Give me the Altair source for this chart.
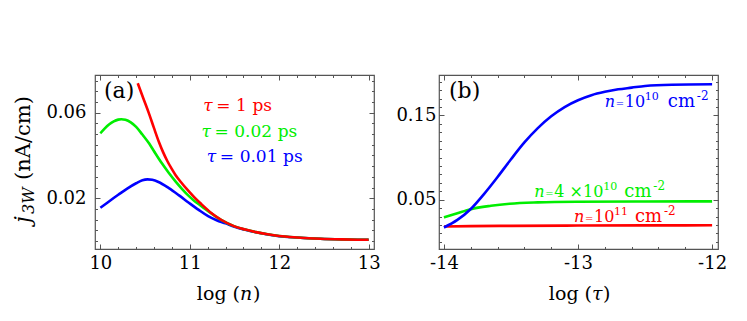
import altair as alt
import pandas as pd

FONT = "DejaVu Serif"

# ---------------- panel (a): j3W vs log(n) ----------------
a_red_x = [10.418, 10.48, 10.546, 10.60, 10.656, 10.70, 10.75, 10.80, 10.84, 10.90, 10.985,
           11.06, 11.13, 11.24, 11.35, 11.5, 11.62, 11.74, 11.87, 12.0, 12.2, 12.46, 12.7, 13.0]
a_red_y = [0.0738, 0.0668, 0.0594, 0.0528, 0.0462, 0.0417, 0.0373, 0.0336, 0.0309, 0.0276, 0.0234,
           0.0200, 0.0172, 0.0131, 0.0099, 0.0068, 0.0053, 0.0041, 0.0031, 0.0023, 0.0016, 0.0010, 0.0007, 0.0005]

a_green_x = [10.0, 10.05, 10.1, 10.15, 10.2, 10.234, 10.28, 10.34, 10.40, 10.47, 10.546, 10.6,
             10.69, 10.766, 10.84, 10.912, 10.985, 11.058, 11.13, 11.24, 11.35, 11.5, 11.62, 11.74,
             11.87, 12.0, 12.2, 12.46, 12.7, 13.0]
a_green_y = [0.0504, 0.0527, 0.0546, 0.0560, 0.0568, 0.0570, 0.0567, 0.0555, 0.0534, 0.0498, 0.0456, 0.0420,
             0.0362, 0.0318, 0.0279, 0.0244, 0.0212, 0.0185, 0.0163, 0.0129, 0.0098, 0.0068, 0.0053, 0.0041,
             0.0031, 0.0023, 0.0016, 0.0010, 0.0007, 0.0005]

a_blue_x = [10.0, 10.1, 10.2, 10.3, 10.4, 10.47, 10.527, 10.58, 10.65, 10.766, 10.88, 10.985, 11.1,
            11.205, 11.3, 11.4, 11.5, 11.62, 11.74, 11.87, 12.0, 12.2, 12.46, 12.7, 13.0]
a_blue_y = [0.0155, 0.0186, 0.0216, 0.0245, 0.0270, 0.0284, 0.0288, 0.0286, 0.0276, 0.0247, 0.0213, 0.0180, 0.0145,
            0.0116, 0.0097, 0.0082, 0.0066, 0.0052, 0.0040, 0.0030, 0.0022, 0.0016, 0.0010, 0.0007, 0.0005]

a_x_major = [10, 11, 12, 13]
a_x_minor = [round(10 + 0.2 * i, 2) for i in range(16)]
a_y_major = [0.02, 0.06]
a_y_minor = [round(0.005 * i, 3) for i in range(16)]
a_x_domain = [9.94, 13.06]
a_y_domain = [-0.0038, 0.0777]

a_labels_rest = ["=\u20041\u2004ps", "=\u20040.02\u2004ps", "=\u20040.01\u2004ps"]
a_labels_x = [11.15, 11.13, 11.19]
a_labels_y = [0.0608, 0.0486, 0.0369]
a_labels_color = ["#ff0000", "#00ee00", "#0000ff"]

# ---------------- panel (b): j3W vs log(tau) ----------------
b_blue_x = [-14.0, -13.9, -13.8, -13.7, -13.6, -13.5, -13.4, -13.3, -13.2, -13.1, -13.0,
            -12.9, -12.8, -12.7, -12.6, -12.5, -12.3, -12.0]
b_blue_y = [0.017, 0.026, 0.039, 0.057, 0.077, 0.098, 0.118, 0.135, 0.149, 0.160, 0.168,
            0.174, 0.178, 0.181, 0.183, 0.185, 0.1865, 0.187]
b_green_x = [-14.0, -13.9, -13.8, -13.65, -13.51, -13.3, -13.01, -12.5, -12.0]
b_green_y = [0.029, 0.034, 0.0388, 0.0428, 0.0452, 0.0468, 0.0476, 0.0479, 0.048]
b_red_x = [-14.0, -13.8, -13.5, -13.0, -12.5, -12.0]
b_red_y = [0.0182, 0.0187, 0.0190, 0.0193, 0.0195, 0.0196]

b_x_major = [-14, -13, -12]
b_x_minor = [round(-14 + 0.2 * i, 2) for i in range(11)]
b_y_major = [0.05, 0.15]
b_y_minor = [round(0.01 * i, 2) for i in range(20)]
b_x_domain = [-14.037, -11.956]
b_y_domain = [-0.0085, 0.198]

b_labels_base = ["10", "4 ×10", "10"]
b_labels_exp = ["10", "10", "11"]
b_labels_exp_dx = [40, 69, 40]
b_labels_cm_dx = [63, 90, 61]
b_labels_x = [-12.80, -13.326, -13.03]
b_labels_y = [0.160, 0.0535, 0.0235]
b_labels_color = ["#0000ff", "#00ee00", "#ff0000"]

W, H = 279, 174
TICK = "#555555"


def axis(orient, values, size, labels=False, pad=0):
    kw = dict(orient=orient, values=values, tickSize=size, offset=-size, domain=False,
              grid=False, title=None, labels=labels, ticks=True, tickColor=TICK, tickWidth=1)
    if labels:
        kw.update(labelFont=FONT, labelFontSize=18, labelColor="black", labelPadding=pad,
                  labelFlush=False, labelOverlap=False, labelExpr="'' + datum.value")
    return alt.Axis(**kw)


def df_of(xs, ys):
    return pd.DataFrame({"x": xs, "y": ys})


def panel(series, xdom, ydom, xmaj, xmin, ymaj, ymin, ylabpad, extra):
    xs = alt.Scale(domain=xdom, nice=False, zero=False)
    ys = alt.Scale(domain=ydom, nice=False, zero=False)
    carrier = df_of(series[0][1], series[0][2])
    layers = []
    for xa, ya in [
        (axis("bottom", xmaj, 5, True, 5), axis("left", ymaj, 5, True, ylabpad)),
        (axis("bottom", xmin, 2.5), axis("left", ymin, 2.5)),
        (axis("top", xmaj, 5), axis("right", ymaj, 5)),
        (axis("top", xmin, 2.5), axis("right", ymin, 2.5)),
    ]:
        layers.append(alt.Chart(carrier).mark_line(opacity=0).encode(
            x=alt.X("x:Q", scale=xs, axis=xa), y=alt.Y("y:Q", scale=ys, axis=ya)))
    for color, sx, sy in series:
        layers.append(alt.Chart(df_of(sx, sy)).mark_line(
            color=color, strokeWidth=2.6, interpolate="monotone").encode(
            x=alt.X("x:Q", scale=xs, axis=None), y=alt.Y("y:Q", scale=ys, axis=None)))
    for ch in extra(xs, ys):
        layers.append(ch)
    return alt.layer(*layers).resolve_axis(x="independent", y="independent").properties(width=W, height=H)


one = pd.DataFrame({"k": [0]})


def ptext(text, x, y, size, style="normal", angle=0, color="black", align="left"):
    kw = dict(text=text, font=FONT, fontSize=size, fontStyle=style, color=color,
              align=align, baseline="alphabetic")
    if angle:
        kw["angle"] = angle
    return alt.Chart(one).mark_text(**kw).encode(x=alt.value(x), y=alt.value(y))


def dtext(xs, ys, x, y, text, size, color, dx=0, dy=0, style="normal"):
    d = pd.DataFrame({"x": [x], "y": [y]})
    kw = dict(text=text, font=FONT, fontSize=size, fontStyle=style, color=color,
              align="left", baseline="alphabetic")
    if dx:
        kw["dx"] = dx
    if dy:
        kw["dy"] = dy
    return alt.Chart(d).mark_text(**kw).encode(
        x=alt.X("x:Q", scale=xs, axis=None), y=alt.Y("y:Q", scale=ys, axis=None))


def extra_a(xs, ys):
    out = []
    for r, x, y, c in zip(a_labels_rest, a_labels_x, a_labels_y, a_labels_color):
        out.append(dtext(xs, ys, x, y, "τ", 17, c, style="italic"))
        out.append(dtext(xs, ys, x, y, r, 17, c, dx=13))
    out.append(ptext("(a)", 9, 23, 22))
    # y-axis title  j_3W (nA/cm)
    out.append(ptext("j", -65, 148, 22, "italic", 270))
    out.append(ptext("3W", -61, 139, 16, "italic", 270))
    out.append(ptext("(nA/cm)", -65, 105, 21, "normal", 270))
    # x-axis title  log (n)
    out.append(ptext("log (", 145, 225, 19, align="right"))
    out.append(ptext("n", 145, 225, 19, "italic"))
    out.append(ptext(")", 158, 225, 19))
    return out


def extra_b(xs, ys):
    out = []
    for i in range(3):
        x, y, c = b_labels_x[i], b_labels_y[i], b_labels_color[i]
        out.append(dtext(xs, ys, x, y, "n", 16, c, style="italic"))
        out.append(dtext(xs, ys, x, y, "=", 10, c, dx=11))
        out.append(dtext(xs, ys, x, y, b_labels_base[i], 16, c, dx=20))
        out.append(dtext(xs, ys, x, y, b_labels_exp[i], 11, c, dx=b_labels_exp_dx[i], dy=-7))
        out.append(dtext(xs, ys, x, y, "cm", 18, c, dx=b_labels_cm_dx[i]))
        out.append(dtext(xs, ys, x, y, "-2", 12, c, dx=b_labels_cm_dx[i] + 29, dy=-7))
    out.append(ptext("(b)", 10, 23, 22))
    out.append(ptext("log (", 153, 225, 19, align="right"))
    out.append(ptext("τ", 153, 225, 19, "italic"))
    out.append(ptext(")", 164, 225, 19))
    return out


pa = panel([("#0000ff", a_blue_x, a_blue_y), ("#00ee00", a_green_x, a_green_y), ("#ff0000", a_red_x, a_red_y)],
           a_x_domain, a_y_domain, a_x_major, a_x_minor, a_y_major, a_y_minor, 9, extra_a)
pb = panel([("#ff0000", b_red_x, b_red_y), ("#00ee00", b_green_x, b_green_y), ("#0000ff", b_blue_x, b_blue_y)],
           b_x_domain, b_y_domain, b_x_major, b_x_minor, b_y_major, b_y_minor, 3, extra_b)

chart = alt.hconcat(pa, pb, spacing=65, bounds="flush").properties(
    padding={"left": 3, "top": 65, "right": 5, "bottom": 5},
    background="white",
).configure_view(stroke="#555555", strokeWidth=1.2)

chart.save("out.html", embed_options={"renderer": "svg", "actions": False})
